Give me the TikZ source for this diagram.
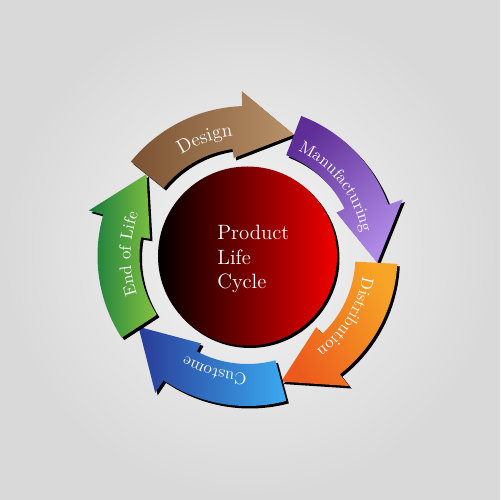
\documentclass[tikz,border=0pt]{standalone}
\usetikzlibrary{decorations.text}
\definecolor{dsgA}{HTML}{7B5232}\definecolor{dsgB}{HTML}{B8926A}
\definecolor{manA}{HTML}{5E2E96}\definecolor{manB}{HTML}{B08AE6}
\definecolor{disA}{HTML}{EC5A1E}\definecolor{disB}{HTML}{F7A526}
\definecolor{cusA}{HTML}{2A3C98}\definecolor{cusB}{HTML}{3AAAF0}
\definecolor{eolA}{HTML}{177A3E}\definecolor{eolB}{HTML}{86C440}
\definecolor{redB}{HTML}{F20000}
\def\prlcArrow#1{({#1}:150) arc[start angle={#1}, end angle={#1-49}, radius=150] -- ({#1-49}:165) -- ({#1-72}:130) -- ({#1-43}:99) -- ({#1-43}:108) arc[start angle={#1-43}, end angle={#1}, radius=108] -- cycle}
\tikzset{
  shadowfill/.style={fill=black, shift={(2.5,-2.5)}},
  lbltext/.style n args={2}{decorate, decoration={text along path, text align=center, text={|\color{white}\fontsize{#1}{#2}\selectfont|#2}}}
}
\begin{document}
\begin{tikzpicture}[x=0.02cm,y=0.02cm]
\useasboundingbox (-247.5,-244) rectangle (252.5,256);
\shade[inner color=white!96!black, outer color=black!15] (-247.5,-244) rectangle (252.5,256);
% arrows
\fill[shadowfill] \prlcArrow{141};
\path[left color=dsgA, right color=dsgB, shading angle=90] \prlcArrow{141};
\fill[shadowfill] \prlcArrow{69};
\path[left color=manA, right color=manB, shading angle=45] \prlcArrow{69};
\fill[shadowfill] \prlcArrow{-3};
\path[left color=disA, right color=disB, shading angle=120] \prlcArrow{-3};
\fill[shadowfill] \prlcArrow{-75};
\path[left color=cusA, right color=cusB, shading angle=90] \prlcArrow{-75};
\fill[shadowfill] \prlcArrow{-147};
\path[left color=eolA, right color=eolB, shading angle=90] \prlcArrow{-147};
% labels along arcs
\path[decorate, decoration={text along path, text align=center, text={|\color{white}\fontsize{11}{13}\selectfont|Design}}] (145:121) arc[start angle=145, end angle=75, radius=121];
\path[decorate, decoration={text along path, text align=center, text={|\color{white}\fontsize{9.5}{11}\selectfont|Manufacturing}}] (73:117) arc[start angle=73, end angle=3, radius=117];
\path[decorate, decoration={text along path, text align=center, text={|\color{white}\fontsize{9.5}{11}\selectfont|Distribution}}] (3:117) arc[start angle=3, end angle=-67, radius=117];
\path[decorate, decoration={text along path, text align=center, text={|\color{white}\fontsize{9.5}{11}\selectfont|Custome}}] (-71:117) arc[start angle=-71, end angle=-141, radius=117];
\path[decorate, decoration={text along path, text align=center, text={|\color{white}\fontsize{9.5}{11}\selectfont|End of Life}}] (214:117) arc[start angle=214, end angle=144, radius=117];
% centre
\fill[black] (2.5,-2.5) circle[radius=89.5];
\path[left color=black, right color=redB] (0,0) circle[radius=89.5];
\node[anchor=west, inner sep=0pt, align=left, text=white, font=\fontsize{11.8}{13.9}\selectfont] (plc) at (-30.5,-3) {Product\\Life\\Cycle};
\end{tikzpicture}
\end{document}
